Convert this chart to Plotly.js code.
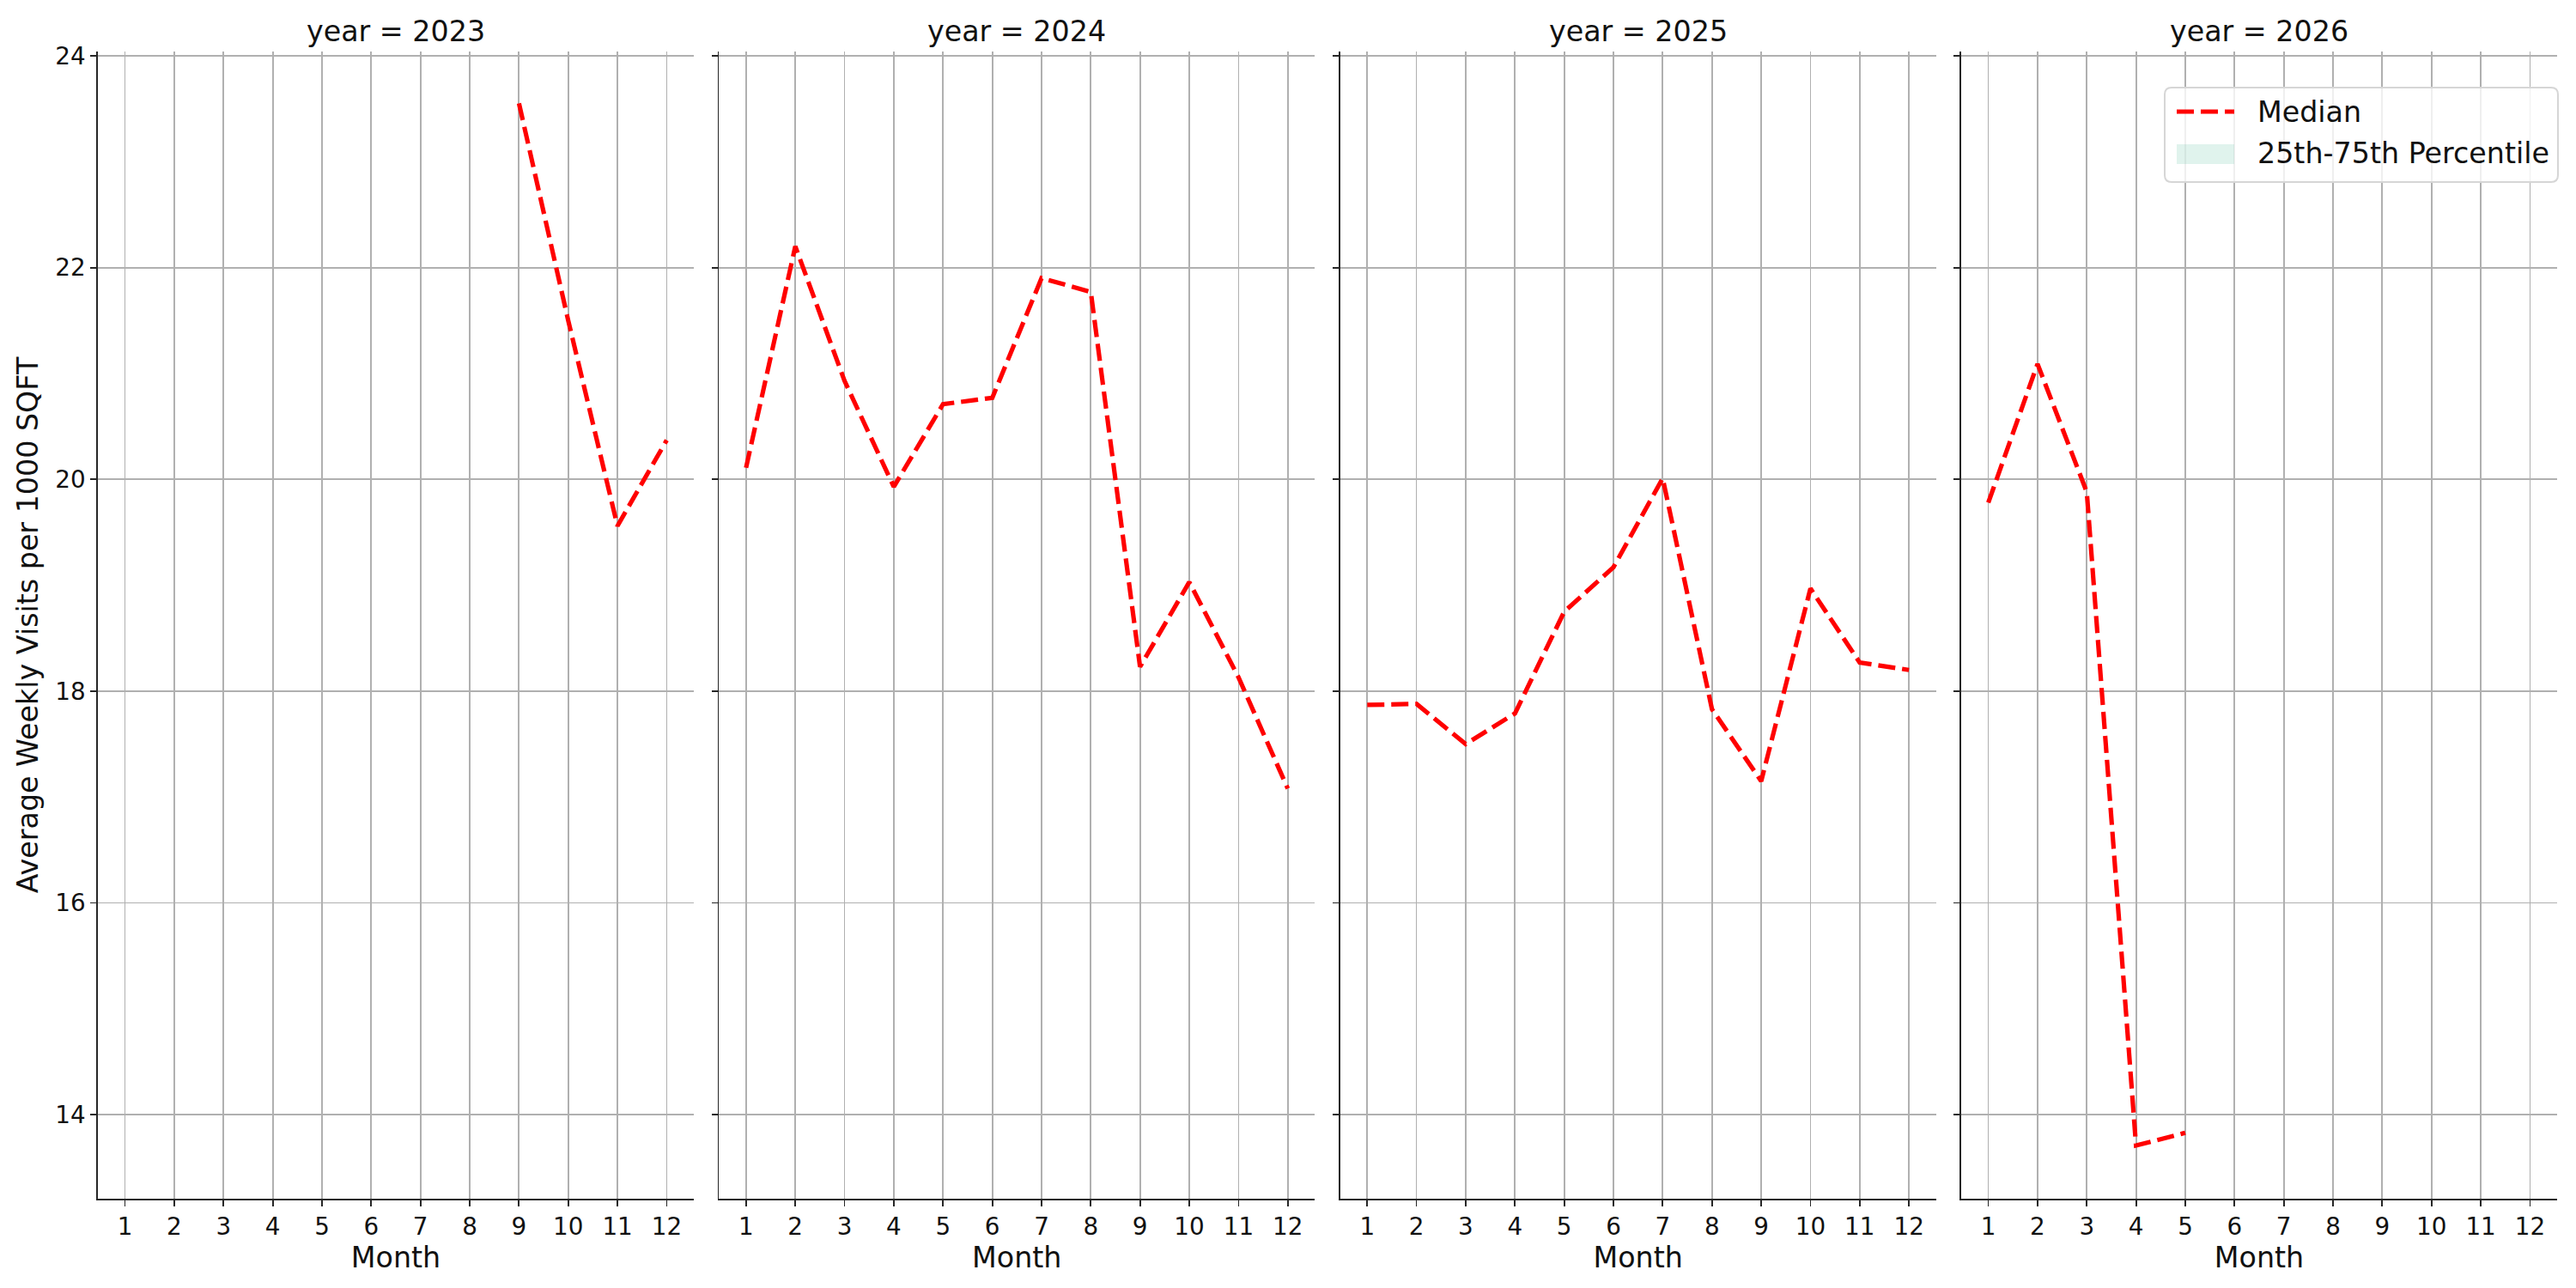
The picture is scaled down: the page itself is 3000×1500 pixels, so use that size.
<!DOCTYPE html>
<html>
<head>
<meta charset="utf-8">
<script src="https://cdn.plot.ly/plotly-3.0.1.min.js"></script>
<style>
  html, body { margin: 0; padding: 0; background: #fff; }
  #chart { width: 3000px; height: 1500px; }
</style>
</head>
<body>
<div id="chart"></div>
<script>
const YEARS = [2023, 2024, 2025, 2026];
const MONTH_TICKS = [1, 2, 3, 4, 5, 6, 7, 8, 9, 10, 11, 12];
const Y_TICKS = [14, 16, 18, 20, 22, 24];

const months2023 = [9, 10, 11, 12];
const median2023 = [23.55, 21.50, 19.56, 20.37];

const months2024 = [1, 2, 3, 4, 5, 6, 7, 8, 9, 10, 11, 12];
const median2024 = [20.11, 22.20, 20.93, 19.93, 20.71, 20.77, 21.90, 21.77, 18.23, 19.03, 18.13, 17.08];

const months2025 = [1, 2, 3, 4, 5, 6, 7, 8, 9, 10, 11, 12];
const median2025 = [17.87, 17.88, 17.50, 17.79, 18.75, 19.17, 20.01, 17.83, 17.15, 18.97, 18.27, 18.20];

const months2026 = [1, 2, 3, 4, 5];
const median2026 = [19.78, 21.09, 19.88, 13.71, 13.83];

const SERIES = [
  { x: months2023, y: median2023 },
  { x: months2024, y: median2024 },
  { x: months2025, y: median2025 },
  { x: months2026, y: median2026 },
];

const W = 3000, H = 1500;
const px = v => v / W;
const py = v => 1 - v / H;

const FONT = 'DejaVu Sans';
const INK = '#262626';
const TICK_SIZE = 27.8, LABEL_SIZE = 33.3;
const RED_LINE = { color: '#ff0000', width: 5.2, dash: '20px,8px' };
const panelLeft = [114, 837.3, 1560.7, 2284];
const panelW = 694;

const traces = SERIES.map((s, i) => ({
  type: 'scatter',
  mode: 'lines',
  x: s.x,
  y: s.y,
  xaxis: i ? `x${i + 1}` : 'x',
  yaxis: i ? `y${i + 1}` : 'y',
  line: RED_LINE,
  name: 'Median',
  showlegend: false,
  hoverinfo: 'x+y',
}));

const layout = {
  width: W,
  height: H,
  margin: { l: 0, r: 0, t: 0, b: 0 },
  paper_bgcolor: '#ffffff',
  plot_bgcolor: '#ffffff',
  font: { family: FONT, color: INK, size: TICK_SIZE },
  showlegend: false,
  annotations: [],
  shapes: [],
};

YEARS.forEach((yr, i) => {
  const sfx = i ? String(i + 1) : '';
  const x0 = px(panelLeft[i]), x1 = px(panelLeft[i] + panelW);
  layout['xaxis' + sfx] = {
    domain: [x0, x1],
    anchor: 'y' + sfx,
    range: [0.45, 12.55],
    tickvals: MONTH_TICKS,
    ticks: 'outside', ticklen: 7, tickwidth: 1.8, tickcolor: INK,
    showline: true, linecolor: INK, linewidth: 1.8,
    showgrid: true, gridcolor: '#b0b0b0', gridwidth: 1.8,
    zeroline: false,
    tickfont: { family: FONT, size: TICK_SIZE, color: '#111' },
    title: { text: 'Month', font: { family: FONT, size: LABEL_SIZE, color: '#111' }, standoff: 6 },
    automargin: false,
    fixedrange: true,
  };
  layout['yaxis' + sfx] = {
    domain: [py(1396), py(60)],
    anchor: 'x' + sfx,
    range: [13.2075, 24.04],
    tickvals: Y_TICKS,
    showticklabels: i === 0,
    ticks: 'outside', ticklen: 7, tickwidth: 1.8, tickcolor: INK,
    showline: true, linecolor: INK, linewidth: 1.8,
    showgrid: true, gridcolor: '#b0b0b0', gridwidth: 1.8,
    zeroline: false,
    tickfont: { family: FONT, size: TICK_SIZE, color: '#111' },
    automargin: false,
    fixedrange: true,
  };
  if (i > 0) layout['yaxis' + sfx].matches = 'y';
  layout.annotations.push({
    text: `year = ${yr}`,
    xref: 'paper', yref: 'paper',
    x: (x0 + x1) / 2, y: py(37),
    xanchor: 'center', yanchor: 'middle',
    showarrow: false,
    font: { family: FONT, size: LABEL_SIZE, color: '#111' },
  });
});

layout.yaxis.title = {
  text: 'Average Weekly Visits per 1000 SQFT',
  font: { family: FONT, size: LABEL_SIZE, color: '#111' },
  standoff: 10,
};

// legend box in the last panel
function roundRect(xa, ya, xb, yb, r) {
  const X = v => px(v), Y = v => py(v);
  return `M ${X(xa + r)} ${Y(ya)} L ${X(xb - r)} ${Y(ya)} Q ${X(xb)} ${Y(ya)} ${X(xb)} ${Y(ya + r)} ` +
    `L ${X(xb)} ${Y(yb - r)} Q ${X(xb)} ${Y(yb)} ${X(xb - r)} ${Y(yb)} ` +
    `L ${X(xa + r)} ${Y(yb)} Q ${X(xa)} ${Y(yb)} ${X(xa)} ${Y(yb - r)} ` +
    `L ${X(xa)} ${Y(ya + r)} Q ${X(xa)} ${Y(ya)} ${X(xa + r)} ${Y(ya)} Z`;
}
layout.shapes.push({
  type: 'path', xref: 'paper', yref: 'paper',
  path: roundRect(2521, 102, 2979, 212, 8),
  fillcolor: 'rgba(255,255,255,0.8)',
  line: { color: '#d6d6d6', width: 2 },
});
layout.shapes.push({
  type: 'line', xref: 'paper', yref: 'paper',
  x0: px(2535), x1: px(2602), y0: py(130), y1: py(130),
  line: RED_LINE,
});
layout.shapes.push({
  type: 'rect', xref: 'paper', yref: 'paper',
  x0: px(2535), x1: px(2602), y0: py(168), y1: py(191),
  fillcolor: 'rgba(102,194,165,0.2)',
  line: { width: 0 },
});
[['Median', 130], ['25th-75th Percentile', 179]].forEach(([t, y]) => {
  layout.annotations.push({
    text: t, xref: 'paper', yref: 'paper',
    x: px(2627), y: py(y), xanchor: 'left', yanchor: 'middle',
    showarrow: false,
    font: { family: FONT, size: LABEL_SIZE, color: '#111' },
  });
});

Plotly.newPlot('chart', traces, layout, { displayModeBar: false, staticPlot: true });
</script>
</body>
</html>
